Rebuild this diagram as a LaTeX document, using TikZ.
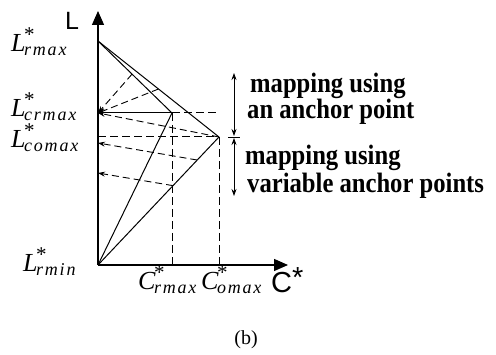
\documentclass[tikz,border=0pt]{standalone}
\usepackage{fontspec}
\setmainfont{Liberation Serif}
\newfontfamily\sansfnt{Liberation Sans}
\newfontfamily\annfont[FakeStretch=0.88]{Liberation Serif}
\newfontfamily\subfnt[LetterSpace=10]{Liberation Serif}
\usetikzlibrary{arrows.meta,calc}
\newcommand\starlab[2]{{\fontsize{26}{26}\selectfont\itshape #1}\kern-1.5pt\rlap{\raisebox{10.5pt}{\fontsize{21}{21}\selectfont *}}\raisebox{-4pt}{\fontsize{18}{18}\selectfont\subfnt\itshape #2}}
\tikzset{
  axis/.style={line width=1.4pt,-{Triangle[length=14pt,width=12pt]}},
  curve/.style={line width=1pt},
  guide/.style={line width=1pt,dash pattern=on 8pt off 4pt},
  maparrow/.style={line width=0.9pt,dash pattern=on 7pt off 4pt,-{Stealth[length=7pt,width=5pt]}},
  span/.style={line width=0.8pt,{Stealth[length=7pt,width=5pt]}-{Stealth[length=7pt,width=5pt]}},
  lab/.style={anchor=base west,inner sep=0pt},
  ann/.style={anchor=base west,inner sep=0pt,font=\annfont\bfseries\fontsize{28}{28}\selectfont}
}
\begin{document}
\begin{tikzpicture}[x=1pt,y=-1pt]
\useasboundingbox (0,0) rectangle (496,355);
\coordinate (O) at (98,265);
\coordinate (Ytip) at (98,11);
\coordinate (Xtip) at (288,265);
\coordinate (R) at (98,41);
\coordinate (A) at (98,113);
\coordinate (B) at (98,137);
\coordinate (P1) at (172,113);
\coordinate (P2) at (219,137);
\coordinate (P1e) at (218,113);
\coordinate (P1b) at (172,265);
\coordinate (P2b) at (219,265);
\coordinate (Q1) at ($(R)!0.46!(P1)$);
\coordinate (Q2) at ($(R)!0.5!(P2)$);
\coordinate (S1) at ($(O)!0.82!(P2)$);
\coordinate (S2) at ($(O)!0.62!(P2)$);
\coordinate (T1) at (98,143);
\coordinate (T2) at (98,173);
\coordinate (U1) at (234,73);
\coordinate (U2) at (234,136);
\coordinate (U3) at (234,138);
\coordinate (U4) at (234,196);
\coordinate (K1) at (228,137);
\coordinate (K2) at (240,137);
% guides
\draw[guide] (P1) -- (P1e);
\draw[guide] (B) -- (P2);
\draw[guide] (P1) -- (P1b);
\draw[guide] (P2) -- (P2b);
% mapping arrows
\draw[maparrow] (Q1) -- (A);
\draw[maparrow] (Q2) -- (A);
\draw[maparrow] (P2) -- (A);
\draw[maparrow] (S1) -- (T1);
\draw[maparrow] (S2) -- (T2);
% curves
\draw[curve] (R) -- (P1);
\draw[curve] (R) -- (P2);
\draw[curve] (O) -- (P1);
\draw[curve] (O) -- (P2);
\draw[curve] (A) -- (P1);
% axes
\draw[axis] (O) -- (Ytip);
\draw[axis] (O) -- (Xtip);
% spans
\draw[span] (U1) -- (U2);
\draw[span] (U3) -- (U4);
\draw[line width=0.8pt] (K1) -- (K2);
% labels
\node[lab] (lrmax) at (11,52) {\starlab{L}{rmax}};
\node[lab] (lcrmax) at (11,117) {\starlab{L}{crmax}};
\node[lab] (lcomax) at (11,148) {\starlab{L}{comax}};
\node[lab] (lrmin) at (23,272) {\starlab{L}{rmin}};
\node[lab] (crmax) at (138,290) {\starlab{C}{rmax}};
\node[lab] (comax) at (201,290) {\starlab{C}{omax}};
\node[lab,font=\sansfnt\fontsize{25}{25}\selectfont] (ylab) at (65,30) {L};
\node[lab,font=\sansfnt\fontsize{29}{29}\selectfont] (xlab) at (271,293) {C\raisebox{5pt}{*}};
\node[ann] (t1) at (250,93) {mapping using};
\node[ann] (t2) at (247,119) {an anchor point};
\node[ann] (t3) at (245,165) {mapping using};
\node[ann] (t4) at (247,193) {variable anchor points};
\node[font=\fontsize{20}{20}\selectfont] (cap) at (246,340) {(b)};
\end{tikzpicture}
\end{document}
